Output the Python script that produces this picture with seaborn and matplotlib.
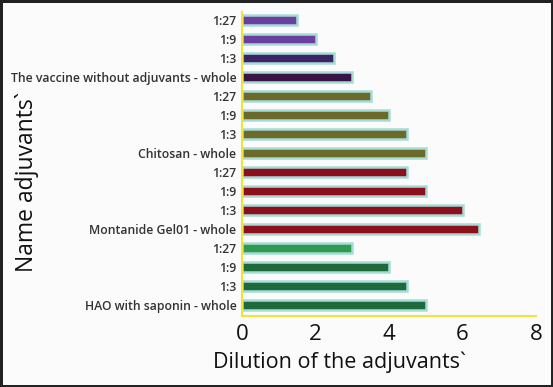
import matplotlib
matplotlib.use('Agg')
import matplotlib.pyplot as plt
import seaborn as sns
import pandas as pd

# data, top to bottom as in the picture
labels = ['1:27', '1:9', '1:3', 'The vaccine without adjuvants - whole',
          '1:27', '1:9', '1:3', 'Chitosan - whole',
          '1:27', '1:9', '1:3', 'Montanide Gel01 - whole',
          '1:27', '1:9', '1:3', 'HAO with saponin - whole']
values = [1.5, 2.0, 2.5, 3.0,
          3.5, 4.0, 4.5, 5.0,
          4.5, 5.0, 6.0, 6.45,
          3.0, 4.0, 4.5, 5.0]
bar_colors = ['#6a3fa0', '#6a3fa0', '#3d2466', '#3a1445',
              '#6b6a2a', '#6b6a2a', '#6b6a2a', '#6b6a2a',
              '#8e0f1c', '#8e0f1c', '#8e0f1c', '#8e0f1c',
              '#2f9a50', '#1f6a3a', '#1f6a3a', '#1f6a3a']

df = pd.DataFrame({'key': [f'{i}' for i in range(len(labels))],
                   'label': labels, 'value': values})

sns.set_style('white')
plt.rcParams['font.family'] = ['Open Sans', 'DejaVu Sans']

fig = plt.figure(figsize=(5.53, 3.87), dpi=100)
fig.patch.set_facecolor('#fbfbfb')
fig.patch.set_edgecolor('#222222')
fig.patch.set_linewidth(2.5)
ax = fig.add_axes([242 / 553, 1 - 316 / 387, 294 / 553, 304 / 387])
ax.set_facecolor('#fbfbfb')

sns.barplot(data=df, y='key', x='value', hue='key', palette=bar_colors,
            orient='h', width=0.5, legend=False, ax=ax, saturation=1,
            edgecolor='#a6dcd6', linewidth=1.8)

ax.set_xlim(0, 8)
ax.set_ylim(15.58, -0.42)
ax.set_xticks([0, 2, 4, 6, 8])
ax.set_yticks(range(len(labels)))
ax.set_yticklabels(labels, fontsize=8.8, color='#333333', fontweight='semibold')
ax.tick_params(axis='x', labelsize=16, colors='#f2e33a', labelcolor='#111111',
               direction='in', length=4, width=1.2, pad=6)
ax.tick_params(axis='y', colors='#f2e33a', labelcolor='#333333',
               direction='out', length=3, width=1.2, pad=1)

for s in ['top', 'right']:
    ax.spines[s].set_visible(False)
for s in ['left', 'bottom']:
    ax.spines[s].set_color('#f2e33a')
    ax.spines[s].set_linewidth(1.5)

ax.set_xlabel('Dilution of the adjuvants`', fontsize=15.5, color='#111111')
ax.xaxis.set_label_coords(0.33, -0.118)
ax.set_ylabel('')
fig.text(27 / 553, 1 - 182 / 387, 'Name adjuvants`', rotation=90, fontsize=16.5,
         color='#111111', ha='center', va='center')

fig.savefig('out.png', dpi=100, facecolor=fig.get_facecolor(),
            edgecolor=fig.get_edgecolor())
